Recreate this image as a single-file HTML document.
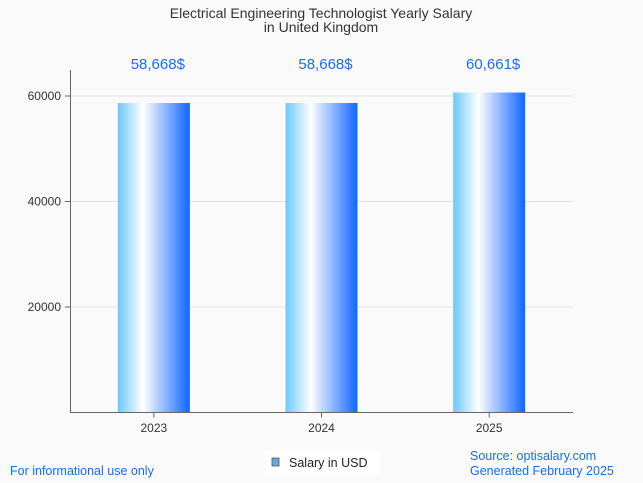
<!DOCTYPE html>
<html><head><meta charset="utf-8"><style>
body{margin:0;background:#fafafa;font-family:"Liberation Sans",sans-serif;}
svg{display:block}
</style></head><body>
<svg id="c" width="643" height="483" xmlns="http://www.w3.org/2000/svg">
<defs><linearGradient id="g" x1="0" x2="1" y1="0" y2="0">
<stop offset="0" stop-color="#6cc8ff"/><stop offset="0.35" stop-color="#ffffff"/><stop offset="1" stop-color="#0f66ff"/>
</linearGradient></defs>
<rect width="643" height="483" fill="#fafafa"/>
<text x="321" y="18" text-anchor="middle" font-size="14" fill="#333">Electrical Engineering Technologist Yearly Salary</text>
<text x="321" y="32" text-anchor="middle" font-size="14" fill="#333">in United Kingdom</text>
<g id="grid"></g><g id="bars"></g>
<line x1="70.5" y1="70" x2="70.5" y2="412.5" stroke="#666"/>
<line x1="70" y1="412.5" x2="573" y2="412.5" stroke="#666"/>
<text x="10" y="475" font-size="12.5" fill="#1a6cf0">For informational use only</text>
<rect x="266" y="451" width="114" height="24" fill="#fff"/>
<rect x="272" y="458" width="7" height="8" fill="#6aa6e0" stroke="#555" stroke-width="0.8"/>
<text x="289" y="467" font-size="12.5" fill="#222">Salary in USD</text>
<text x="470" y="460" font-size="12.5" fill="#1a6cf0">Source: optisalary.com</text>
<text x="470" y="475" font-size="12.5" fill="#1a6cf0">Generated February 2025</text>
</svg>
<script>
const categories=["2023","2024","2025"];
const values=[58668,58668,60661];
const labels=["58,668$","58,668$","60,661$"];
const ticks=[20000,40000,60000];
const NS="http://www.w3.org/2000/svg";
const x0=70,x1=573,yb=412.5,yt=96;
const y=v=>yb-(v/60000)*(yb-yt);
const band=(x1-x0)/categories.length;
const cx=i=>x0+band*(i+0.5);
function mk(t,a,p){const e=document.createElementNS(NS,t);for(const k in a)e.setAttribute(k,a[k]);p.appendChild(e);return e;}
const G=document.getElementById("grid"),B=document.getElementById("bars");
ticks.forEach(t=>{
 const l=mk("line",{x1:x0,x2:x1,y1:y(t),y2:y(t),stroke:"#e2e2e2"},G);
 
 
 const k=mk("line",{x1:x0-5,x2:x0,y1:y(t),y2:y(t),stroke:"#666"},G);
 
 
 const tx=mk("text",{x:x0-9,y:y(t)+4,"text-anchor":"end","font-size":"12",fill:"#333"},G);
 tx.textContent=t;
 
 
});
categories.forEach((c,i)=>{
 const r=mk("rect",{x:cx(i)-36,y:y(values[i]),width:72,height:yb-y(values[i]),fill:"url(#g)"},B);
 
 
 const v=mk("text",{x:cx(i)+4,y:69,"text-anchor":"middle","font-size":"15",fill:"#1a6cf0"},B);
 v.textContent=labels[i];
 
 
 const k=mk("line",{x1:cx(i),x2:cx(i),y1:yb,y2:yb+5,stroke:"#666"},B);
 
 
 const t=mk("text",{x:cx(i),y:432,"text-anchor":"middle","font-size":"12",fill:"#333"},B);
 t.textContent=c;
 
 
});
</script>
</body></html>
